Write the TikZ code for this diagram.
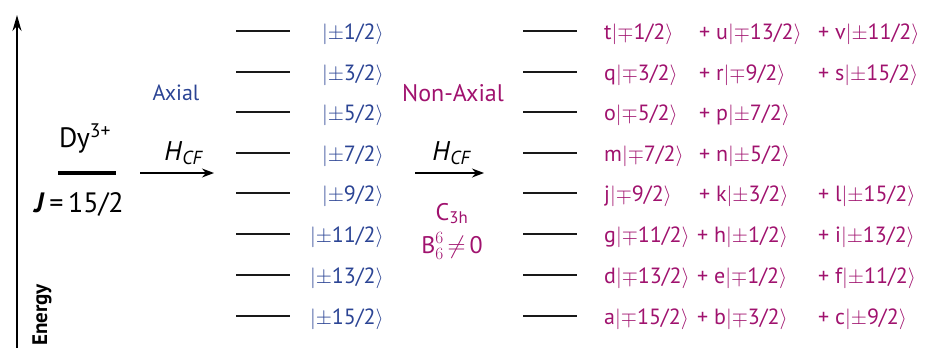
\documentclass[tikz,border=0pt]{standalone}
\usepackage{fontspec}
\setmainfont{PT Sans}
\usetikzlibrary{arrows.meta}
\definecolor{axblue}{HTML}{2B4494}
\definecolor{namag}{HTML}{A0126E}
\newcommand{\myket}[1]{\(\vert\)#1\(\rangle\)}
\newcommand{\pmm}{\(\pm\)}
\newcommand{\mpp}{\(\mp\)}
\tikzset{
  lvl/.style={line width=1.6pt, draw=black!90},
  ketl/.style={anchor=base east, inner sep=0pt, text=axblue, font=\fontsize{22}{24}\selectfont},
  ketr/.style={anchor=base west, inner sep=0pt, text=namag, font=\fontsize{22}{24}\selectfont},
  lab/.style={inner sep=0pt, font=\fontsize{22}{24}\selectfont},
  hcf/.style={-{Stealth[length=12pt,width=9pt]}, line width=1.4pt},
}
\begin{document}
\begin{tikzpicture}[x=1pt,y=-1pt]
\useasboundingbox (0,0) rectangle (929,348);
% energy axis
\coordinate (ebot) at (17,348);
\coordinate (etop) at (17,15);
\draw[line width=2pt, -{Stealth[length=16pt,width=9pt]}] (ebot) -- (etop);
\node[rotate=90, anchor=base west, inner sep=0pt, font=\fontsize{21}{23}\selectfont\bfseries] (energy) at (47,346) {Energy};
% Dy level
\draw[line width=4.5pt] (58,173) -- (116,173);
\node[lab, anchor=base, font=\fontsize{28}{30}\selectfont] (dy) at (85,147) {Dy\textsuperscript{3+}};
\node[lab, anchor=base, font=\fontsize{28}{30}\selectfont] (jj) at (79,212) {\textbf{\textit{J}}\,=\,15/2};
% axial
\node[lab, anchor=base, text=axblue] (axial) at (176,100) {Axial};
\coordinate (a1s) at (140,173);
\coordinate (a1e) at (214,173);
\draw[hcf] (a1s) -- (a1e);
\node[lab, anchor=base, font=\fontsize{27}{29}\selectfont] (h1) at (184,160) {\textit{H}\textsubscript{\textit{CF}}};
% left levels
\foreach \y/\k [count=\i] in {31/1,72/3,112/5,153/7,193/9,234/11,275/13,316/15}{
  \draw[lvl] (236,\y) -- (290,\y);
  \node[ketl] (kl\i) at (384,\y+8) {\myket{\pmm\k/2}};
}
% non-axial
\node[lab, anchor=base, text=namag, font=\fontsize{24}{26}\selectfont] (nonax) at (453,101) {Non-Axial};
\coordinate (a2s) at (415,173);
\coordinate (a2e) at (484,173);
\draw[hcf] (a2s) -- (a2e);
\node[lab, anchor=base, font=\fontsize{27}{29}\selectfont] (h2) at (452,160) {\textit{H}\textsubscript{\textit{CF}}};
\node[lab, anchor=base, text=namag, font=\fontsize{24}{26}\selectfont] (c3h) at (452,220) {C\textsubscript{3h}};
\node[lab, anchor=base, text=namag, font=\fontsize{24}{26}\selectfont] (b66) at (452,253) {B\(^{6}_{6}\)\,\(\neq\)\,0};
% right levels
\foreach \y in {31,72,112,153,193,234,275,316}{
  \draw[lvl] (523,\y) -- (577,\y);
}
\node[ketr] (r1a) at (604,39) {t\myket{\mpp1/2}};
\node[ketr] (r1b) at (699,39) {+ u\myket{\mpp13/2}};
\node[ketr] (r1c) at (818,39) {+ v\myket{\pmm11/2}};
\node[ketr] (r2a) at (604,80) {q\myket{\mpp3/2}};
\node[ketr] (r2b) at (699,80) {+ r\myket{\mpp9/2}};
\node[ketr] (r2c) at (818,80) {+ s\myket{\pmm15/2}};
\node[ketr] (r3a) at (604,120) {o\myket{\mpp5/2}};
\node[ketr] (r3b) at (699,120) {+ p\myket{\pmm7/2}};
\node[ketr] (r4a) at (604,161) {m\myket{\mpp7/2}};
\node[ketr] (r4b) at (699,161) {+ n\myket{\pmm5/2}};
\node[ketr] (r5a) at (604,201) {j\myket{\mpp9/2}};
\node[ketr] (r5b) at (699,201) {+ k\myket{\pmm3/2}};
\node[ketr] (r5c) at (818,201) {+ l\myket{\pmm15/2}};
\node[ketr] (r6a) at (604,242) {g\myket{\mpp11/2}};
\node[ketr] (r6b) at (697,242) {+ h\myket{\pmm1/2}};
\node[ketr] (r6c) at (818,242) {+ i\myket{\pmm13/2}};
\node[ketr] (r7a) at (604,283) {d\myket{\mpp13/2}};
\node[ketr] (r7b) at (697,283) {+ e\myket{\mpp1/2}};
\node[ketr] (r7c) at (818,283) {+ f\myket{\pmm11/2}};
\node[ketr] (r8a) at (604,324) {a\myket{\mpp15/2}};
\node[ketr] (r8b) at (697,324) {+ b\myket{\mpp3/2}};
\node[ketr] (r8c) at (818,324) {+ c\myket{\pmm9/2}};
\end{tikzpicture}
\end{document}
